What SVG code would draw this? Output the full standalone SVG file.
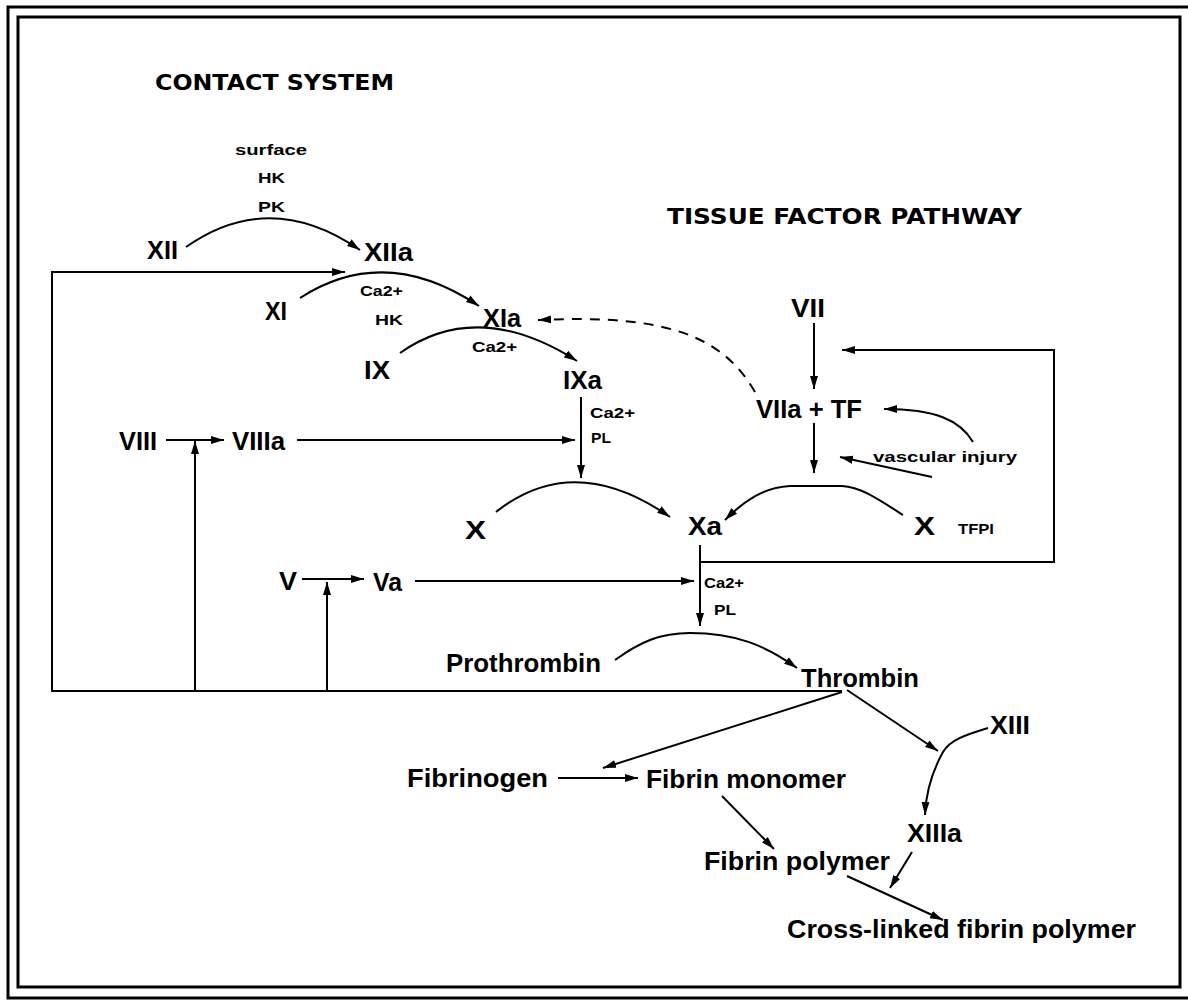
<svg xmlns="http://www.w3.org/2000/svg" width="1188" height="1002" viewBox="0 0 1188 1002">
<style>
.lbl{font-family:"Liberation Sans Narrow","Liberation Sans",Arial,sans-serif;font-size:25px;font-weight:bold;fill:#000}
.sm{font-family:"Liberation Sans","DejaVu Sans",Arial,sans-serif;font-size:14px;font-weight:bold;fill:#000}
.ttl{font-family:"DejaVu Sans",Verdana,sans-serif;font-size:22px;font-weight:bold;fill:#000}
.c{fill:none;stroke:#000;stroke-width:2}
.frame{fill:none;stroke:#000;stroke-width:3}
</style>
<defs>
<marker id="ah" markerUnits="userSpaceOnUse" markerWidth="14" markerHeight="10" refX="13" refY="5" orient="auto">
<path d="M0,1 L13,5 L0,9 Z" fill="#000"/>
</marker>
</defs>
<rect width="1188" height="1002" fill="#fff"/>
<rect class="frame" x="8" y="7" width="1186" height="991"/>
<rect class="frame" x="18" y="17" width="1162" height="970"/>

<g id="titles">
<text class="ttl" x="155" y="90" textLength="239" lengthAdjust="spacingAndGlyphs">CONTACT SYSTEM</text>
<text class="ttl" x="667" y="224" textLength="355" lengthAdjust="spacingAndGlyphs">TISSUE FACTOR PATHWAY</text>
</g>

<g id="cofactors">
<text class="sm" x="235" y="155" textLength="72" lengthAdjust="spacingAndGlyphs">surface</text>
<text class="sm" x="258" y="183" textLength="27" lengthAdjust="spacingAndGlyphs">HK</text>
<text class="sm" x="258" y="212" textLength="27" lengthAdjust="spacingAndGlyphs">PK</text>
<text class="sm" x="360" y="296" textLength="43" lengthAdjust="spacingAndGlyphs">Ca2+</text>
<text class="sm" x="375" y="325" textLength="28" lengthAdjust="spacingAndGlyphs">HK</text>
<text class="sm" x="472" y="352" textLength="45" lengthAdjust="spacingAndGlyphs">Ca2+</text>
<text class="sm" x="590" y="418" textLength="45" lengthAdjust="spacingAndGlyphs">Ca2+</text>
<text class="sm" x="591" y="443" textLength="20" lengthAdjust="spacingAndGlyphs">PL</text>
<text class="sm" x="704" y="588" textLength="40" lengthAdjust="spacingAndGlyphs">Ca2+</text>
<text class="sm" x="714" y="615" textLength="22" lengthAdjust="spacingAndGlyphs">PL</text>
<text class="sm" x="958" y="534" textLength="36" lengthAdjust="spacingAndGlyphs">TFPI</text>
<text class="sm" x="873" y="462" textLength="144" lengthAdjust="spacingAndGlyphs" style="font-size:15px">vascular injury</text>
</g>

<g id="n-XII"><text class="lbl" x="147" y="259" textLength="31" lengthAdjust="spacingAndGlyphs">XII</text></g>
<g id="n-XIIa"><text class="lbl" x="364" y="261" textLength="49" lengthAdjust="spacingAndGlyphs">XIIa</text></g>
<g id="n-XI"><text class="lbl" x="265" y="320" textLength="22" lengthAdjust="spacingAndGlyphs">XI</text></g>
<g id="n-XIa"><text class="lbl" x="483" y="327" textLength="38" lengthAdjust="spacingAndGlyphs">XIa</text></g>
<g id="n-IX"><text class="lbl" x="364" y="379" textLength="26" lengthAdjust="spacingAndGlyphs">IX</text></g>
<g id="n-IXa"><text class="lbl" x="563" y="389" textLength="39" lengthAdjust="spacingAndGlyphs">IXa</text></g>
<g id="n-VIII"><text class="lbl" x="119" y="450" textLength="38" lengthAdjust="spacingAndGlyphs">VIII</text></g>
<g id="n-VIIIa"><text class="lbl" x="232" y="450" textLength="53" lengthAdjust="spacingAndGlyphs">VIIIa</text></g>
<g id="n-VII"><text class="lbl" x="791" y="317" textLength="34" lengthAdjust="spacingAndGlyphs">VII</text></g>
<g id="n-VIIaTF"><text class="lbl" x="756" y="418" textLength="106" lengthAdjust="spacingAndGlyphs">VIIa + TF</text></g>
<g id="n-X1"><text class="lbl" x="465" y="539" textLength="21" lengthAdjust="spacingAndGlyphs">X</text></g>
<g id="n-Xa"><text class="lbl" x="688" y="535" textLength="34" lengthAdjust="spacingAndGlyphs">Xa</text></g>
<g id="n-X2"><text class="lbl" x="914" y="535" textLength="21" lengthAdjust="spacingAndGlyphs">X</text></g>
<g id="n-V"><text class="lbl" x="279" y="590" textLength="18" lengthAdjust="spacingAndGlyphs">V</text></g>
<g id="n-Va"><text class="lbl" x="373" y="591" textLength="29" lengthAdjust="spacingAndGlyphs">Va</text></g>
<g id="n-Prothrombin"><text class="lbl" x="446" y="672" textLength="155" lengthAdjust="spacingAndGlyphs">Prothrombin</text></g>
<g id="n-Thrombin"><text class="lbl" x="801" y="687" textLength="118" lengthAdjust="spacingAndGlyphs">Thrombin</text></g>
<g id="n-XIII"><text class="lbl" x="990" y="734" textLength="40" lengthAdjust="spacingAndGlyphs">XIII</text></g>
<g id="n-Fibrinogen"><text class="lbl" x="407" y="787" textLength="141" lengthAdjust="spacingAndGlyphs">Fibrinogen</text></g>
<g id="n-FibrinMonomer"><text class="lbl" x="646" y="788" textLength="200" lengthAdjust="spacingAndGlyphs">Fibrin monomer</text></g>
<g id="n-XIIIa"><text class="lbl" x="907" y="842" textLength="55" lengthAdjust="spacingAndGlyphs">XIIIa</text></g>
<g id="n-FibrinPolymer"><text class="lbl" x="704" y="870" textLength="186" lengthAdjust="spacingAndGlyphs">Fibrin polymer</text></g>
<g id="n-CrossLinked"><text class="lbl" x="787" y="938" textLength="349" lengthAdjust="spacingAndGlyphs">Cross-linked fibrin polymer</text></g>

<g id="connectors">
<path class="c" d="M186,247 Q270,188 360,250" marker-end="url(#ah)"/>
<path class="c" d="M300,298 Q385,243 479,306" marker-end="url(#ah)"/>
<path class="c" d="M400,353 Q478,298 577,361" marker-end="url(#ah)"/>
<path class="c" d="M842,691 H52 V272 H345" marker-end="url(#ah)"/>
<path class="c" d="M195,691 V441" marker-end="url(#ah)"/>
<path class="c" d="M327,691 V582" marker-end="url(#ah)"/>
<path class="c" d="M166,440 H224" marker-end="url(#ah)"/>
<path class="c" d="M297,440 H575" marker-end="url(#ah)"/>
<path class="c" d="M302,579 H364" marker-end="url(#ah)"/>
<path class="c" d="M415,581 H694" marker-end="url(#ah)"/>
<path class="c" d="M581,397 V478" marker-end="url(#ah)"/>
<path class="c" d="M814,323 V389" marker-end="url(#ah)"/>
<path class="c" d="M814,423 V473" marker-end="url(#ah)"/>
<path class="c" d="M700,545 V626" marker-end="url(#ah)"/>
<path class="c" d="M700,562 H1054 V350 H842" marker-end="url(#ah)"/>
<path class="c" d="M973,442 C960,420 935,409 884,409" marker-end="url(#ah)"/>
<path class="c" d="M932,477 L840,457" marker-end="url(#ah)"/>
<path class="c" d="M755,392 C722,335 665,314 538,320" stroke-dasharray="10,8" marker-end="url(#ah)"/>
<path class="c" d="M496,512 Q574,450 670,517" marker-end="url(#ah)"/>
<path class="c" d="M903,515 C875,497 860,487 842,486 L790,486 C765,487 745,500 725,520" marker-end="url(#ah)"/>
<path class="c" d="M615,660 C640,642 660,633 690,633 C735,633 765,645 797,668" marker-end="url(#ah)"/>
<path class="c" d="M842,692 L603,768" marker-end="url(#ah)"/>
<path class="c" d="M847,690 L938,751" marker-end="url(#ah)"/>
<path class="c" d="M988,728 C965,735 950,740 943,752 C933,770 926,790 925,815" marker-end="url(#ah)"/>
<path class="c" d="M558,778 H638" marker-end="url(#ah)"/>
<path class="c" d="M722,796 L774,849" marker-end="url(#ah)"/>
<path class="c" d="M912,852 L890,888" marker-end="url(#ah)"/>
<path class="c" d="M847,876 L943,920" marker-end="url(#ah)"/>
</g>
</svg>
